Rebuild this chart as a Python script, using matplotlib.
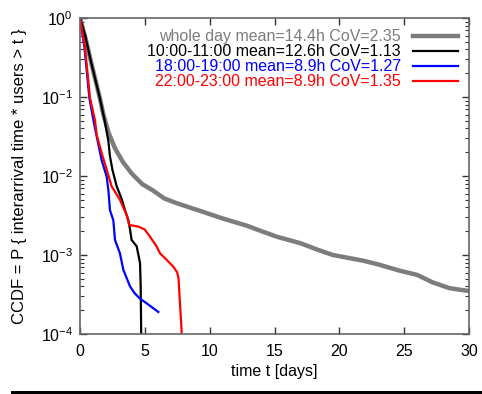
import matplotlib
matplotlib.use("Agg")
import matplotlib.pyplot as plt
from matplotlib.patches import Rectangle
from matplotlib.ticker import LogLocator, NullFormatter, MultipleLocator

plt.rcParams['font.family'] = ['Liberation Sans', 'DejaVu Sans']
plt.rcParams['mathtext.default'] = 'regular'

# --- data ---
labels = ["whole day mean=14.4h CoV=2.35",
          "10:00-11:00 mean=12.6h CoV=1.13",
          "18:00-19:00 mean=8.9h CoV=1.27",
          "22:00-23:00 mean=8.9h CoV=1.35"]

t_whole = [0, 0.4, 0.9, 1.54, 1.8, 2.2, 2.7, 3.3, 4.0, 4.8, 5.6, 6.5, 7.5, 9.3, 11.0,
           12.9, 14.0, 15.2, 17.0, 18.3, 19.5, 21.8, 23.0, 24.7, 26.0, 27.2, 28.5, 30.0]
c_whole = [1.0, 0.575, 0.257, 0.0955, 0.0603, 0.0355, 0.0224, 0.0151, 0.0107, 0.0079,
           0.0066, 0.0052, 0.0045, 0.0036, 0.0029, 0.00234, 0.0020, 0.0017, 0.00141,
           0.00117, 0.0010, 0.00085, 0.00076, 0.00063, 0.00056, 0.00045, 0.00038, 0.00035]

t_1011 = [0, 0.39, 0.9, 1.54, 1.9, 2.18, 2.31, 2.5, 2.83, 3.2, 3.47, 3.73, 3.86, 3.98,
          4.37, 4.63, 4.68, 4.72]
c_1011 = [1.0, 0.603, 0.257, 0.0955, 0.0501, 0.0282, 0.0178, 0.0120, 0.0074, 0.0052,
          0.0037, 0.00275, 0.0021, 0.00155, 0.00129, 0.00079, 0.0004, 0.0001]

t_1819 = [0, 0.35, 0.72, 1.1, 1.67, 2.06, 2.2, 2.31, 2.57, 2.7, 3.08, 3.34, 3.86, 4.2,
          4.63, 5.3, 6.04]
c_1819 = [1.0, 0.417, 0.0977, 0.0447, 0.0158, 0.0098, 0.0063, 0.0037, 0.00275, 0.00155,
          0.00105, 0.00065, 0.0004, 0.00033, 0.00028, 0.000234, 0.00019]

t_2223 = [0, 0.39, 0.77, 1.16, 1.29, 1.67, 2.06, 2.44, 3.08, 3.4, 3.6, 3.8, 4.5, 5.0,
          5.4, 5.9, 6.17, 6.68, 7.2, 7.5, 7.6, 7.71, 7.8, 7.84]
c_2223 = [1.0, 0.417, 0.0977, 0.0501, 0.0331, 0.0195, 0.0120, 0.0074, 0.0050, 0.0038,
          0.0032, 0.0024, 0.00229, 0.0021, 0.0017, 0.00129, 0.00105, 0.00087, 0.00071,
          0.0006, 0.0005, 0.000245, 0.00014, 0.0001]

fig = plt.figure(figsize=(4.82, 3.94), dpi=100)
ax = fig.add_axes([80/482, 1-334/394, 389/482, 316/394])

ax.plot(t_whole, c_whole, color='#7c7c7c', lw=3.2, label=labels[0])
ax.plot(t_1011, c_1011, color='black', lw=1.6, label=labels[1])
ax.plot(t_1819, c_1819, color='#0000ff', lw=1.6, label=labels[2])
ax.plot(t_2223, c_2223, color='#ff0000', lw=1.6, label=labels[3])

ax.set_yscale('log')
ax.set_xlim(0, 30)
ax.set_ylim(1e-4, 1)
ax.xaxis.set_major_locator(MultipleLocator(5))
ax.yaxis.set_major_locator(LogLocator(base=10, numticks=10))
ax.yaxis.set_minor_locator(LogLocator(base=10, subs=range(2, 10), numticks=20))
ax.yaxis.set_minor_formatter(NullFormatter())

ax.tick_params(which='both', direction='in', top=True, right=True, labelsize=11.5,
               colors='#333333', labelcolor='black')
ax.tick_params(which='major', length=5, width=1)
ax.tick_params(which='minor', length=3, width=0.8)
ax.tick_params(axis='x', pad=7)
ax.tick_params(axis='y', pad=5)
for s in ax.spines.values():
    s.set_color('#666666')
    s.set_linewidth(1.2)

ax.set_xlabel("time t [days]", fontsize=11.5, labelpad=4)
ax.set_ylabel("CCDF = P { interarrival time * users > t }", fontsize=12, labelpad=10)

leg = ax.legend(loc='upper right', frameon=False, markerfirst=False, fontsize=11.5,
                labelcolor='linecolor', handlelength=2.8, handletextpad=0.75,
                labelspacing=0.0, borderpad=0.2, borderaxespad=0.5)

fig.add_artist(Rectangle((11/482, 0), 1, 3/394, transform=fig.transFigure,
                         color='black', lw=0))

fig.savefig("out.png", dpi=100, facecolor='white')
